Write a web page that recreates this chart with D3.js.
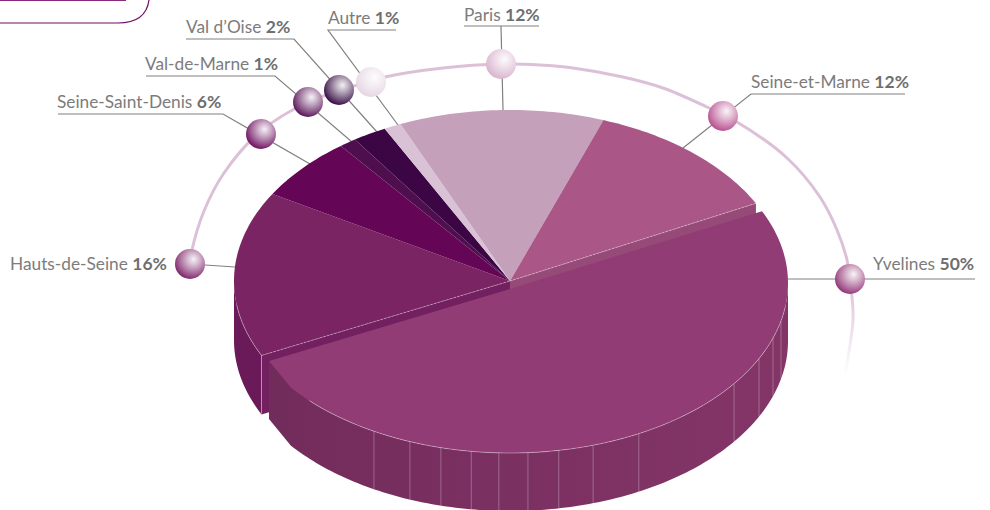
<!DOCTYPE html>
<html><head><meta charset="utf-8">
<script src="https://cdnjs.cloudflare.com/ajax/libs/d3/7.8.5/d3.min.js"></script>
<style>html,body{margin:0;padding:0;background:#fff;overflow:hidden}svg{display:block}
text{font-family:Lato,"Open Sans",sans-serif;font-size:17.3px;fill:#7c7c7c}
tspan.v{font-weight:700;font-size:17.5px;fill:#6f6f6f}</style></head>
<body><svg id="c" width="990" height="510"></svg>
<script>
const categories = ["Yvelines","Hauts-de-Seine","Seine-Saint-Denis","Val-de-Marne","Val d’Oise","Autre","Paris","Seine-et-Marne"];
const shares = [50,16,6,1,2,1,12,12];
const sliceColours = ["#913c75","#7b2463","#640655","#4f0e4e","#3c0645","#d9c2d5","#c5a0ba","#aa5788"];
const ballEdges = ["#8f2f73","#7c2168","#6a0b5c","#560f55","#2f063e","#e6d4e3","#d8b2cd","#b54a8c"];

const svg = d3.select("#c"), defs = svg.append("defs");
const rad = d => d*Math.PI/180;
const main = {cx:510, cy:281, rx:276, ry:171};
const big  = {cx:510, cy:283, rx:278, ry:170};
const depth = 58;
const pt = (e,a,dy=0) => [e.cx+e.rx*Math.sin(a), e.cy-e.ry*Math.cos(a)+dy];
const arcPts = (e,a0,a1,dy=0) => { const n=Math.max(2,Math.ceil(Math.abs(a1-a0)/rad(1)));
  return d3.range(n+1).map(i=>pt(e,a0+(a1-a0)*i/n,dy)); };
const line = d3.line();
const closed = p => line(p)+"Z";

const arcs = d3.pie().sort(null).value(d=>d).startAngle(rad(63)).endAngle(rad(423))(shares);

// frame fragment, top left
svg.append("path").attr("d","M0,23H118Q146,23 149,0").attr("fill","none").attr("stroke","#6d0f63").attr("stroke-width",1.2);
svg.append("path").attr("d","M0,0.5H126").attr("fill","none").attr("stroke","#8a2a7c").attr("stroke-width",1);

// ring
const ringPts=[[190,264],[192,250],[204,211],[224,173],[261,131],[308,102],[339,91],[385,77],[443,68],[501,64],[540,65],[573,68],[623,77],[663,88],[707,107],[737,122],[787,158],[820,197],[837,230],[847,260],[852,297],[853,320],[845,375]];
const rg=defs.append("linearGradient").attr("id","ringG").attr("gradientUnits","userSpaceOnUse").attr("x1",0).attr("y1",285).attr("x2",0).attr("y2",375);
rg.append("stop").attr("offset",0).attr("stop-color","#dcc0d8");
rg.append("stop").attr("offset",1).attr("stop-color","#dcc0d8").attr("stop-opacity",0);
svg.append("path").attr("d",d3.line().curve(d3.curveCatmullRom.alpha(.5))(ringPts)).attr("fill","none").attr("stroke","url(#ringG)").attr("stroke-width",3);

const labelLayout=[
 {b:[850,279],t:[873,270],l:[[788,279],[975,279]]},
 {b:[190,264],t:[10,270],l:[[190,264],[235,267]]},
 {b:[261,134],t:[57,108],l:[[58,114],[223,114],[310,164]]},
 {b:[308,102],t:[145,70],l:[[146,76],[275,76],[352,142]]},
 {b:[339,90],t:[186,33],l:[[186,39],[294,39],[377,132]]},
 {b:[371,82],t:[328,24],l:[[396,30],[328,30],[398,125]]},
 {b:[501,64],t:[464,21],l:[[464,26],[539,26]]},
 {b:[723,116],t:[751,88],l:[[905,94],[751,94],[683,148]]}
];
const leaderG=svg.append("g");
labelLayout.forEach(d=>leaderG.append("path").attr("d",line(d.l)).attr("fill","none").attr("stroke","#808080").attr("stroke-width",1.2));
leaderG.append("path").attr("d",line([[501,26],[503,110]])).attr("fill","none").attr("stroke","#808080").attr("stroke-width",1.2);

// pie body
const hds=arcs[1], sem=arcs[7], yv=arcs[0];
const hdsStart=hds.startAngle+rad(1.2);
const apex=[main.cx,main.cy];
const hdsCorner=pt(main,hdsStart), semCorner=pt(main,sem.endAngle);
svg.append("path").attr("fill","#6a1a58").attr("d",closed([...arcPts(main,hdsStart,rad(270)),...arcPts(main,rad(270),hdsStart,depth+1)]));
svg.append("path").attr("fill","#722060").attr("d",closed([hdsCorner,apex,[apex[0],apex[1]+depth],[hdsCorner[0],hdsCorner[1]+depth+1]]));
svg.append("path").attr("fill","#964a78").attr("d",closed([semCorner,apex,[apex[0],apex[1]+depth],[semCorner[0],semCorner[1]+depth]]));
svg.append("g").selectAll("path").data(arcs.slice(1)).join("path")
  .attr("fill",(d,i)=>sliceColours[i+1])
  .attr("d",(d,i)=>closed([apex,...arcPts(main,i===0?hdsStart:d.startAngle,d.endAngle)]));
const hl="rgba(255,255,255,.5)";
const thin=(p,dash)=>svg.append("path").attr("d",line(p)).attr("fill","none").attr("stroke",hl).attr("stroke-width",.7).attr("stroke-dasharray",dash||null);
thin([hdsCorner,apex],"3 1");
thin([semCorner,apex],"3 1");
thin(arcPts(main,hdsStart,rad(262)));
thin([hdsCorner,[hdsCorner[0],hdsCorner[1]+depth]]);

// Yvelines, pulled out
const a0=yv.startAngle+rad(2), arcEnd=rad(232), corner=[269,361];
const wg=defs.append("linearGradient").attr("id","wallG").attr("x1",0).attr("x2",1).attr("y1",0).attr("y2",0);
wg.append("stop").attr("offset",0).attr("stop-color","#722c5b");
wg.append("stop").attr("offset",.45).attr("stop-color","#7b3062");
wg.append("stop").attr("offset",1).attr("stop-color","#843567");
svg.append("path").attr("fill","url(#wallG)").attr("d",closed([corner,...arcPts(big,arcEnd,rad(90)),...arcPts(big,rad(90),arcEnd,depth),[corner[0],corner[1]+depth]]));
const facetDegrees=[209.3,201.1,194.4,188,182.3,176.3,169.9,162.6,152.4,126.3,116.4,108.9,102.9];
facetDegrees.forEach(f=>{const p=pt(big,rad(f));
  svg.append("path").attr("d",line([p,[p[0],p[1]+depth]])).attr("fill","none").attr("stroke","rgba(255,255,255,.35)").attr("stroke-width",.8);});
svg.append("path").attr("fill",sliceColours[0]).attr("d",closed([[510,289],...arcPts(big,a0,arcEnd),corner]));
thin(arcPts(big,rad(98),rad(226)));

// balls
labelLayout.forEach((d,i)=>{
  const mix=d3.interpolateRgb("#fff",ballEdges[i]);
  const g=defs.append("radialGradient").attr("id","ball"+i).attr("cx",.6).attr("cy",.36).attr("r",.68).attr("fx",.62).attr("fy",.34);
  g.append("stop").attr("offset",0).attr("stop-color",mix(.06));
  g.append("stop").attr("offset",.3).attr("stop-color",mix(.32));
  g.append("stop").attr("offset",.68).attr("stop-color",mix(.68));
  g.append("stop").attr("offset",1).attr("stop-color",ballEdges[i]);
  svg.append("circle").attr("cx",d.b[0]).attr("cy",d.b[1]).attr("r",15).attr("fill",`url(#ball${i})`);
  const t=svg.append("text").attr("x",d.t[0]).attr("y",d.t[1]);
  t.append("tspan").text(categories[i]+" ");
  t.append("tspan").attr("class","v").text(shares[i]+"%");
});
</script></body></html>
